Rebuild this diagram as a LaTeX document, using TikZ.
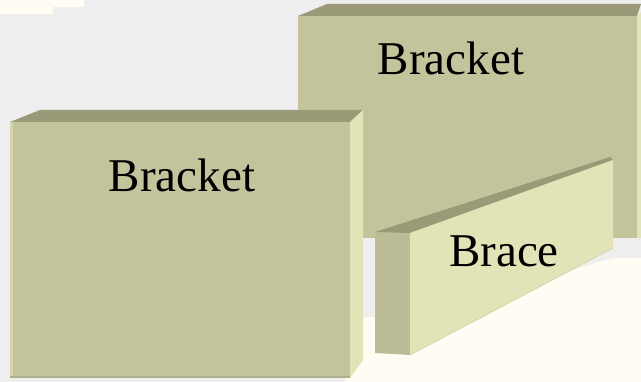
\documentclass[tikz,border=0pt]{standalone}
\usepackage{fontspec}
\setmainfont{Liberation Serif}
\definecolor{bg}{HTML}{EEEEEE}
\definecolor{cream}{HTML}{FFFCF4}
\definecolor{face}{HTML}{C4C49C}
\definecolor{topf}{HTML}{9A9A78}
\definecolor{side}{HTML}{E3E3B8}
\definecolor{bside}{HTML}{BCBC97}
\definecolor{edge}{HTML}{D6D6AE}
\begin{document}
\begin{tikzpicture}[x=1pt,y=-1pt,
  lbl/.style={inner sep=0pt,anchor=base,font=\fontsize{47}{50}\selectfont,text=black}]
\useasboundingbox (0,0) rectangle (641,382);
% background
\fill[bg] (0,0) rectangle (641,382);
\fill[cream] (345,382) -- (345,317) -- (410,317) -- (613,258) -- (641,258) -- (641,382) -- cycle;
\fill[cream] (0,0) rectangle (84,7);
\fill[cream] (0,7) rectangle (53,14);
% back box
\fill[face] (298,16) rectangle (637,238);
\fill[topf] (298,16) -- (327,4) -- (641,4) -- (637,16) -- cycle;
\fill[side] (637,16) -- (641,12) -- (641,238) -- (637,238) -- cycle;
\node[lbl] (b2) at (451,75) {Bracket};
% brace
\fill[bside] (375,232) -- (410,233) -- (410,355) -- (375,353) -- cycle;
\fill[topf] (375,232) -- (610,157) -- (613,160) -- (410,233) -- cycle;
\fill[side] (410,233) -- (613,160) -- (613,248) -- (410,355) -- cycle;
\draw[edge,line width=0.8pt] (410,355) -- (613,248);
\node[lbl] (br) at (504,267) {Brace};
% front box
\fill[face] (10,122) rectangle (350,378);
\fill[edge] (10,122) rectangle (13,378);
\fill[face!90!black] (10,376.5) rectangle (350,378.5);
\fill[topf] (10,122) -- (40,110) -- (363,110) -- (350,122) -- cycle;
\fill[side] (350,122) -- (363,110) -- (363,360) -- (350,378) -- cycle;
\node[lbl] (b1) at (182,192) {Bracket};
\end{tikzpicture}
\end{document}
